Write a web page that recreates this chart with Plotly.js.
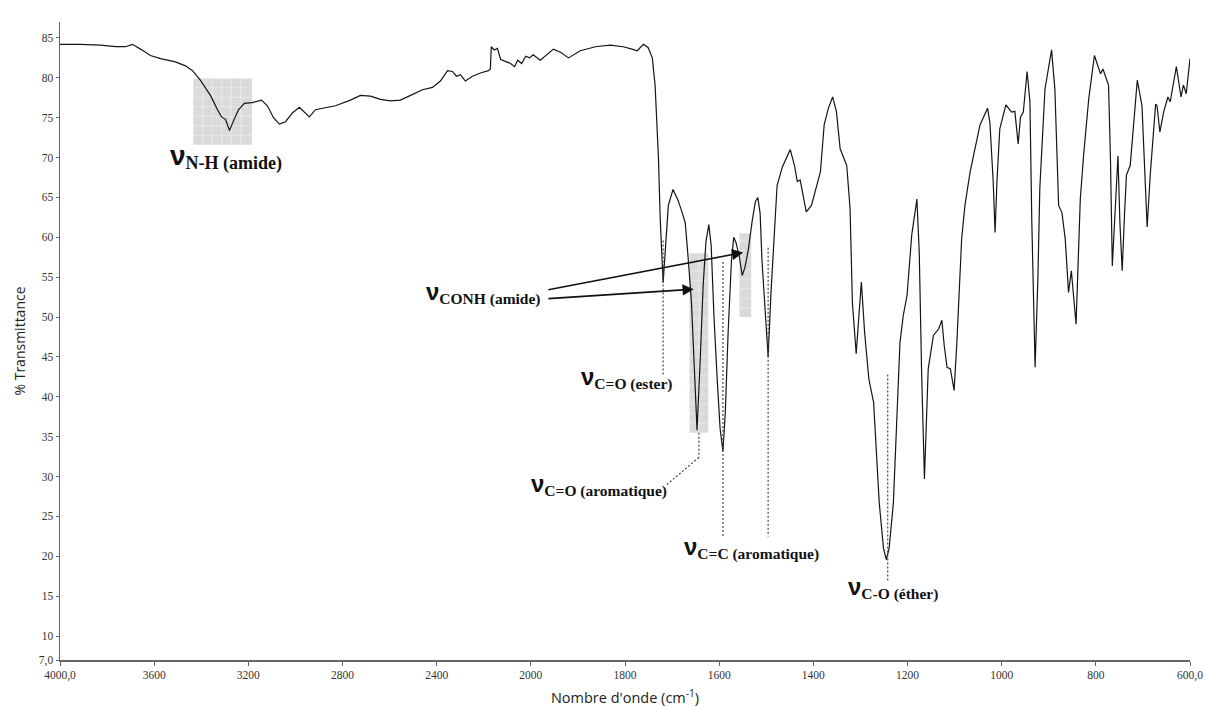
<!DOCTYPE html>
<html>
<head>
<meta charset="utf-8">
<script src="https://cdn.plot.ly/plotly-3.0.1.min.js"></script>
<style>html,body{margin:0;padding:0;background:#fff;}#chart{width:1205px;height:707px;}</style>
</head>
<body>
<div id="chart"></div>
<script>
// ---- data (wavenumber in cm-1, % transmittance) ----
const wavenumber = [4000,3913,3828,3764,3722,3692,3658,3616,3573,3510,3467,3437,3404,3361,3331,3314,3297,3280,3263,3242,3217,3183,3144,3119,3093,3068,3042,3013,2983,2966,2941,2915,2885,2830,2766,2724,2681,2639,2596,2554,2511,2460,2418,2384,2354,2333,2316,2299,2278,2248,2214,2180,2172,2168,2155,2142,2128,2107,2086,2069,2056,2039,2022,2006,1995,1980,1952,1937,1920,1895,1863,1831,1804,1785,1774,1761,1751,1742,1736,1729,1725,1719,1714,1708,1698,1687,1678,1672,1666,1659,1653,1647,1640,1634,1628,1622,1617,1611,1604,1598,1592,1587,1581,1574,1569,1564,1557,1551,1545,1538,1530,1523,1518,1513,1509,1502,1496,1490,1483,1477,1466,1455,1449,1440,1434,1428,1421,1415,1404,1394,1385,1377,1368,1359,1351,1343,1329,1322,1317,1309,1304,1298,1291,1282,1272,1260,1251,1245,1239,1230,1216,1209,1201,1191,1180,1175,1170,1164,1156,1145,1134,1127,1122,1116,1109,1101,1095,1085,1078,1067,1046,1030,1025,1018,1014,1010,1004,991,979,972,965,960,954,946,940,936,929,923,919,908,894,887,879,872,865,858,852,842,833,826,815,803,790,785,773,769,765,760,753,749,744,739,735,727,712,702,697,691,684,673,670,664,656,647,642,629,619,614,608,600];
const transmittance = [84.2,84.2,84.1,83.9,83.9,84.2,83.6,82.8,82.4,82.0,81.5,80.9,79.7,77.8,76.0,75.1,74.8,73.4,74.6,76.0,76.8,76.9,77.2,76.5,75.0,74.2,74.5,75.6,76.3,75.8,75.1,76.0,76.2,76.5,77.2,77.8,77.7,77.3,77.1,77.2,77.8,78.5,78.8,79.6,80.9,80.8,80.2,80.4,79.6,80.2,80.6,80.9,81.1,83.9,83.5,83.7,82.3,82.0,81.8,81.4,82.2,81.8,82.7,82.5,82.9,82.2,83.6,83.2,82.5,83.4,83.9,84.1,83.9,83.6,83.4,84.2,83.8,82.5,79.0,70.0,62.0,54.3,58.5,64.0,66.0,64.6,63.0,61.8,57.5,52.0,44.0,35.8,45.0,54.0,59.5,61.6,59.0,50.0,42.0,36.0,33.2,38.0,48.0,57.0,60.0,59.3,57.5,55.2,56.3,58.5,62.0,64.5,65.0,63.0,57.0,50.0,45.0,53.0,61.0,66.5,68.8,70.2,71.0,69.0,67.0,67.2,65.0,63.2,64.0,66.3,68.2,74.1,76.2,77.6,75.8,71.1,69.0,63.6,51.8,45.4,49.0,54.4,48.0,42.2,39.3,26.7,21.0,19.6,21.0,26.7,46.8,50.2,52.7,60.3,64.8,58.0,43.0,29.7,43.5,47.7,48.5,49.6,46.4,43.7,43.5,40.8,47.0,59.8,64.0,68.2,74.1,76.2,74.4,67.0,60.6,67.0,73.6,76.6,75.7,75.8,71.7,75.1,75.7,80.8,77.0,62.0,43.7,55.0,66.1,78.6,83.5,78.6,64.0,63.1,59.8,53.1,55.8,49.1,64.8,70.3,77.4,82.8,80.5,81.1,79.1,70.0,56.4,62.0,70.2,62.0,55.8,63.0,67.8,69.0,79.7,76.5,69.0,61.3,68.2,76.7,76.5,73.2,75.7,77.6,77.0,81.4,77.6,79.1,78.0,82.4];

const xTickLabels = ['4000,0','3600','3200','2800','2400','2000','1800','1600','1400','1200','1000','800','600,0'];
const xTickWavenumbers = [4000,3600,3200,2800,2400,2000,1800,1600,1400,1200,1000,800,600];
const yTickValues = [7,10,15,20,25,30,35,40,45,50,55,60,65,70,75,80,85];
const yTickLabels = ['7,0','10','15','20','25','30','35','40','45','50','55','60','65','70','75','80','85'];

// band labels
const bandLabels = [
  {w:3296, t:70.1, sub:'N-H (amide)', big:true},
  {w:2202, t:53.0, sub:'CONH (amide)'},
  {w:1796, t:42.4, sub:'C=O (ester)'},
  {w:1855, t:28.9, sub:'C=O (aromatique)'},
  {w:1532, t:21.0, sub:'C=C (aromatique)'},
  {w:1230, t:16.0, sub:'C-O (éther)'}
];
// highlighted regions [w1, w2, t1, t2]
const highlightBoxes = [[3434,3184,71.6,79.9],[1663,1623,35.5,58.0],[1557,1532,50.0,60.5]];
// dotted marker lines (polyline points [w, t])
const markerLines = [
  [[1719,59.6],[1719,42.8]],
  [[1643,35.5],[1643,32.4],[1711,29.0]],
  [[1592,56.9],[1592,22.5]],
  [[1496,58.7],[1496,22.5]],
  [[1242,42.8],[1242,16.9]]
];
// arrows [tail w, tail t, head w, head t]
const arrows = [[1966,53.4,1549,58.1],[1966,52.3,1654,53.5]];

// ---- piecewise axis (400 cm-1 per division above 2000, 200 below) ----
function pos(w){ return w >= 2000 ? (4000 - w)/400 : 5 + (2000 - w)/200; }

const W = 1205, H = 707;
const margin = {l:60, r:15, t:22, b:47};
const yRange = [7, 87];
const pxPerX = (W - margin.l - margin.r)/12;
const pxPerY = (H - margin.t - margin.b)/(yRange[1]-yRange[0]);

const shapes = [];
highlightBoxes.forEach(b => {
  const x0 = pos(b[0]), x1 = pos(b[1]);
  shapes.push({type:'rect', xref:'x', yref:'y', x0:x0, x1:x1, y0:b[2], y1:b[3],
    fillcolor:'#dadada', line:{width:0}, layer:'below'});
  const dx = 9.5/pxPerX, dy = 9.5/pxPerY;
  for (let x = x0 + dx; x < x1 - dx*0.3; x += dx)
    shapes.push({type:'line', xref:'x', yref:'y', x0:x, x1:x, y0:b[2], y1:b[3], line:{color:'#e9e9e9', width:1}, layer:'below'});
  for (let y = b[2] + dy; y < b[3] - dy*0.3; y += dy)
    shapes.push({type:'line', xref:'x', yref:'y', x0:x0, x1:x1, y0:y, y1:y, line:{color:'#e9e9e9', width:1}, layer:'below'});
});
markerLines.forEach(pl => {
  for (let i = 0; i < pl.length-1; i++) {
    shapes.push({type:'line', xref:'x', yref:'y', x0:pos(pl[i][0]), y0:pl[i][1], x1:pos(pl[i+1][0]), y1:pl[i+1][1],
      line:{color:'#444', width:1.2, dash:'2px,2px'}});
  }
});

const annotations = bandLabels.map(b => {
  const nu = b.big ? 28 : 24, sub = b.big ? 18 : 15.5;
  return {
    xref:'x', yref:'y', x:pos(b.w), y:b.t, showarrow:false, xanchor:'center', yanchor:'middle',
    text:'<span style="font-family:Liberation Sans;font-size:' + nu + 'px;font-weight:bold">ν</span><b><sub><span style="font-size:' + sub + 'px">' + b.sub + '</span></sub></b>',
    font:{family:'Liberation Serif', size:b.big ? 20 : 18, color:'#111'}
  };
});
arrows.forEach(a => annotations.push({
  xref:'x', yref:'y', axref:'x', ayref:'y', x:pos(a[2]), y:a[3], ax:pos(a[0]), ay:a[1],
  text:'', showarrow:true, arrowhead:2, arrowsize:1.4, arrowwidth:1.6, arrowcolor:'#111', standoff:0
}));

const trace = {
  x: wavenumber.map(pos), y: transmittance, type:'scatter', mode:'lines',
  line:{color:'#151515', width:1.2}, hoverinfo:'skip'
};

const layout = {
  width:W, height:H, margin:margin, paper_bgcolor:'#fff', plot_bgcolor:'#fff', showlegend:false,
  xaxis:{range:[0,12], tickvals:xTickWavenumbers.map(pos), ticktext:xTickLabels, showgrid:false, zeroline:false,
    showline:true, linecolor:'#666', linewidth:1.5, ticks:'outside', ticklen:4, tickcolor:'#666', tickwidth:1,
    tickfont:{family:'Liberation Serif', size:11.5, color:'#333'},
    title:{text:"Nombre d'onde (cm<sup>-1</sup>)", font:{family:'Open Sans', size:14.5, color:'#222'}, standoff:11}},
  yaxis:{range:yRange, tickvals:yTickValues, ticktext:yTickLabels, showgrid:false, zeroline:false,
    showline:true, linecolor:'#666', linewidth:1.5, ticks:'outside', ticklen:3, tickcolor:'#666', tickwidth:1,
    tickfont:{family:'Liberation Serif', size:11.5, color:'#333'},
    title:{text:'% Transmittance', font:{family:'Open Sans', size:14, color:'#222'}, standoff:10}},
  shapes:shapes, annotations:annotations
};

Plotly.newPlot('chart', [trace], layout, {displayModeBar:false, staticPlot:true});
</script>
</body>
</html>
